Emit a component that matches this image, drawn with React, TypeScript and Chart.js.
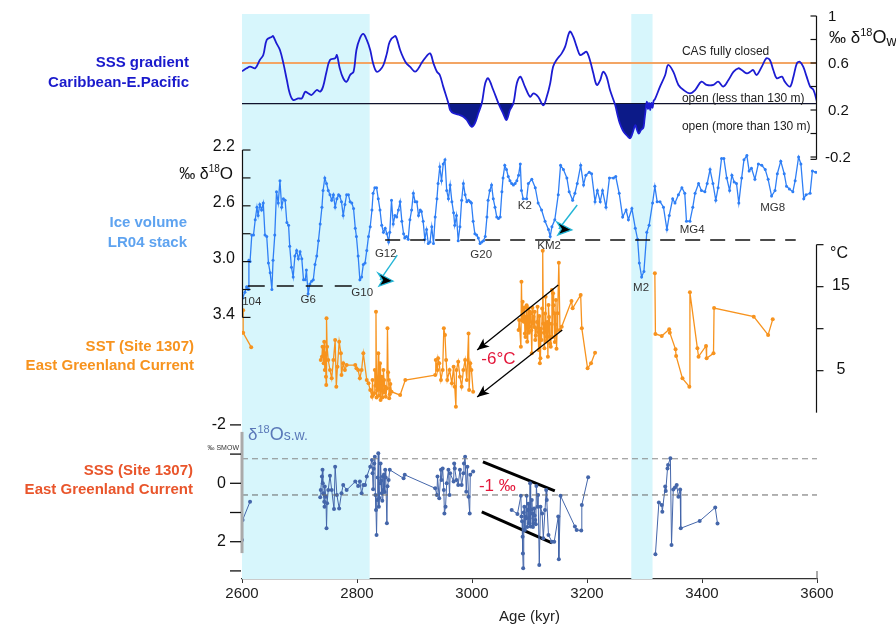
import React, { useEffect, useRef } from 'react';
import { Chart, registerables } from 'chart.js';
Chart.register(...registerables);

const F = '"Liberation Sans", Arial, Helvetica, sans-serif';

// ---------- data ----------
const ageTicks = [2600, 2800, 3000, 3200, 3400, 3600];
const bands: [number, number][] = [[2600, 2822], [3277, 3314]];

// SSS gradient Caribbean - E. Pacific (‰ δ18Ow)
const sssGradient: [number, number][] = [
  [2600,0.53],[2608,0.555],[2614,0.57],[2623,0.555],[2631,0.626],[2637,0.668],[2643,0.796],[2652,0.824],[2654,0.83],[2660,0.767],
  [2666,0.711],[2672,0.597],[2678,0.455],[2683,0.342],[2689,0.285],[2698,0.299],[2704,0.299],[2710,0.356],[2715,0.342],[2721,0.328],
  [2730,0.37],[2736,0.356],[2741,0.399],[2747,0.526],[2753,0.626],[2762,0.64],[2765,0.668],[2770,0.555],[2776,0.47],[2782,0.441],
  [2788,0.498],[2794,0.526],[2799,0.711],[2805,0.81],[2811,0.847],[2817,0.796],[2823,0.711],[2828,0.597],[2834,0.526],[2840,0.54],
  [2846,0.583],[2852,0.682],[2857,0.782],[2866,0.83],[2869,0.81],[2875,0.711],[2881,0.64],[2886,0.597],[2892,0.569],[2901,0.526],
  [2907,0.555],[2912,0.597],[2918,0.64],[2927,0.682],[2933,0.597],[2939,0.526],[2944,0.498],[2950,0.399],[2959,0.257],[2962,0.2],
  [2968,0.172],[2979,0.157],[2985,0.143],[2991,0.115],[2999,0.058],[3005,0.087],[3011,0.172],[3017,0.257],[3023,0.427],[3028,0.47],
  [3037,0.37],[3046,0.257],[3054,0.172],[3060,0.115],[3066,0.2],[3072,0.257],[3078,0.427],[3084,0.484],[3092,0.399],[3101,0.313],
  [3107,0.342],[3115,0.313],[3124,0.24],[3130,0.313],[3136,0.427],[3141,0.569],[3147,0.626],[3156,0.682],[3162,0.739],[3170,0.867],
  [3176,0.824],[3182,0.739],[3188,0.668],[3194,0.682],[3199,0.696],[3205,0.626],[3211,0.512],[3217,0.413],[3223,0.455],[3228,0.526],
  [3234,0.484],[3240,0.37],[3249,0.243],[3253,0.16],[3257,0.087],[3262,0.03],[3266,0.0],[3270,-0.02],[3275,-0.04],[3279,0.0],
  [3284,0.07],[3287,0.03],[3290,0.0],[3294,0.03],[3298,0.05],[3300,0.12],[3302,0.2],[3304,0.27],[3306,0.21],[3308,0.26],
  [3310,0.2],[3312,0.26],[3314,0.22],[3316,0.28],[3318,0.29],[3327,0.399],[3336,0.498],[3341,0.583],[3350,0.526],[3359,0.413],
  [3368,0.37],[3379,0.342],[3388,0.37],[3399,0.441],[3408,0.413],[3420,0.413],[3428,0.441],[3437,0.399],[3446,0.455],[3455,0.526],
  [3463,0.555],[3469,0.54],[3478,0.512],[3484,0.526],[3489,0.54],[3495,0.498],[3504,0.569],[3512,0.64],[3518,0.626],[3524,0.54],
  [3530,0.47],[3539,0.484],[3544,0.441],[3553,0.399],[3559,0.484],[3565,0.597],[3570,0.611],[3576,0.569],[3582,0.484],[3588,0.399],
  [3594,0.37],[3600,0.27]
];
const casClosedLevel = 0.6;
const casOpenLevel = 0.255;
const gradTicks = [1.0, 0.8, 0.6, 0.4, 0.2, 0, -0.2];
const gradTickLabels: [number, string][] = [[1.0, '1'], [0.6, '0.6'], [0.2, '0.2'], [-0.2, '-0.2']];

// LR04 benthic stack (‰ δ18O)
const lr04: [number, number][] = [
  [2601,3.26],[2605,3.22],[2608,3.18],[2611,3.2],[2612,2.99],[2614,3.0],[2617,2.81],[2620,2.81],[2623,2.7],[2626,2.61],
  [2628,2.67],[2631,2.59],[2634,2.63],[2637,2.58],[2640,2.81],[2643,2.82],[2646,3.01],[2649,3.08],[2652,3.2],[2654,2.99],
  [2657,2.81],[2660,2.5],[2663,2.58],[2666,2.42],[2669,2.61],[2672,2.55],[2675,2.56],[2678,2.72],[2681,2.74],[2683,2.89],
  [2686,3.04],[2689,3.11],[2692,2.96],[2695,2.92],[2698,2.98],[2701,2.93],[2704,2.98],[2707,3.13],[2710,3.13],[2712,3.06],
  [2715,3.23],[2718,3.16],[2721,3.14],[2724,3.13],[2727,3.02],[2730,2.96],[2733,2.85],[2736,2.73],[2739,2.61],[2741,2.49],
  [2744,2.4],[2747,2.44],[2750,2.49],[2753,2.52],[2756,2.56],[2759,2.52],[2762,2.61],[2765,2.55],[2768,2.52],[2770,2.53],
  [2773,2.57],[2776,2.67],[2779,2.59],[2782,2.52],[2785,2.52],[2788,2.57],[2791,2.58],[2794,2.62],[2797,2.76],[2799,2.82],
  [2802,2.96],[2805,3.13],[2808,3.11],[2811,3.02],[2814,3.01],[2817,2.92],[2820,2.82],[2823,2.75],[2826,2.63],[2828,2.51],
  [2831,2.47],[2834,2.47],[2837,2.55],[2840,2.63],[2843,2.74],[2846,2.79],[2849,2.76],[2852,2.8],[2855,2.86],[2857,2.79],
  [2860,2.56],[2863,2.73],[2866,2.67],[2869,2.68],[2872,2.63],[2875,2.57],[2878,2.71],[2881,2.8],[2883,2.83],[2886,2.82],
  [2889,2.84],[2892,2.7],[2895,2.63],[2898,2.51],[2901,2.57],[2904,2.57],[2907,2.67],[2910,2.63],[2912,2.64],[2915,2.71],
  [2918,2.84],[2921,2.77],[2924,2.87],[2927,2.86],[2930,2.75],[2933,2.87],[2936,2.68],[2939,2.55],[2941,2.44],[2944,2.32],
  [2947,2.42],[2950,2.3],[2953,2.27],[2956,2.49],[2959,2.55],[2962,2.45],[2965,2.57],[2968,2.65],[2970,2.74],[2973,2.67],
  [2976,2.85],[2979,2.75],[2982,2.56],[2985,2.44],[2988,2.52],[2991,2.57],[2994,2.56],[2997,2.57],[2999,2.58],[3002,2.71],
  [3005,2.8],[3008,2.81],[3011,2.83],[3014,2.87],[3017,2.86],[3020,2.85],[3023,2.82],[3026,2.68],[3028,2.56],[3031,2.49],
  [3034,2.45],[3037,2.55],[3040,2.61],[3043,2.68],[3046,2.69],[3049,2.68],[3052,2.5],[3054,2.4],[3057,2.31],[3060,2.34],
  [3063,2.39],[3066,2.42],[3069,2.44],[3072,2.45],[3075,2.44],[3078,2.42],[3081,2.38],
  [3084,2.3],[3086,2.49],[3089,2.55],[3095,2.55],[3098,2.44],[3104,2.41],[3110,2.47],[3115,2.58],[3121,2.63],[3127,2.71],
  [3133,2.77],[3136,2.82],[3139,2.75],[3144,2.7],[3150,2.52],[3154,2.31],[3159,2.34],[3165,2.4],[3169,2.5],[3175,2.56],
  [3179,2.51],[3183,2.44],[3189,2.31],[3194,2.45],[3198,2.38],[3204,2.36],[3208,2.37],[3214,2.57],[3218,2.49],[3223,2.57],
  [3227,2.49],[3233,2.61],[3239,2.4],[3246,2.4],[3250,2.39],[3256,2.51],[3262,2.68],[3268,2.63],[3272,2.7],[3278,2.62],
  [3284,2.76],[3288,2.84],[3291,3.01],[3295,3.11],[3299,3.07],[3304,2.79],[3308,2.74],[3314,2.58],[3318,2.46],[3322,2.57],
  [3327,2.57],[3333,2.61],[3339,2.77],[3343,2.67],[3349,2.55],[3353,2.58],[3359,2.52],[3365,2.47],[3370,2.51],[3373,2.71],
  [3379,2.71],[3384,2.61],[3388,2.51],[3394,2.44],[3399,2.49],[3405,2.5],[3409,2.44],[3414,2.34],[3419,2.44],[3424,2.56],
  [3428,2.47],[3434,2.26],[3438,2.26],[3443,2.4],[3448,2.49],[3452,2.38],[3456,2.43],[3460,2.44],[3464,2.58],[3469,2.4],
  [3473,2.27],[3478,2.24],[3482,2.35],[3486,2.33],[3492,2.41],[3498,2.3],[3504,2.31],[3510,2.34],[3515,2.41],[3521,2.53],
  [3527,2.49],[3531,2.37],[3537,2.28],[3543,2.37],[3547,2.46],[3552,2.48],[3558,2.5],[3562,2.42],[3568,2.25],[3572,2.3],
  [3577,2.55],[3581,2.52],[3588,2.51],[3592,2.35],[3598,2.36]
];
const lrGlacialLow: [number, number][] = [[2610, 3.175], [2800, 3.175]];
const lrGlacialHigh: [number, number][] = [[2849, 2.845], [3563, 2.845]];
const lrTicks = [2.2, 2.4, 2.6, 2.8, 3.0, 3.2, 3.4];
const lrTickLabels = [2.2, 2.6, 3.0, 3.4];
const lrStages: [string, number, number][] = [
  ['104', 2617, 3.29], ['G6', 2715, 3.275], ['G10', 2809, 3.225], ['G12', 2850, 2.946], ['G20', 3016, 2.953],
  ['K2', 3092, 2.6], ['KM2', 3134, 2.888], ['M2', 3294, 3.19], ['MG4', 3383, 2.773], ['MG8', 3523, 2.616]
];
const lrArrows: [number, number, number, number][] = [[2870, 2.953, 2840, 3.132], [3183, 2.594, 3151, 2.766]];

// SST Site 1307 (°C)
const sst: [number, number | null][] = [
  [2602,12.2],[2602,9.5],[2616,7.8],[2680,null],
  [2737,6.27],[2739,6.67],[2740,7.86],[2742,5.87],[2743,8.45],[2744,5.08],[2745,7.06],[2746,4.29],[2746.5,3.29],[2747,11.23],
  [2748,7.86],[2750,6.27],[2753,5.08],[2756,4.09],[2759,6.27],[2762,8.65],[2764,3.1],[2766,5.48],[2769,8.45],[2772,7.06],
  [2773,4.48],[2776,5.87],[2779,5.08],[2782,5.67],[2797,5.67],[2799,5.28],[2802,5.08],[2805,4.09],[2808,5.08],[2811,7.06],
  [2817,3.89],[2820,3.49],[2823,2.7],[2826,1.9],[2827,3.89],[2828,2.1],[2830,2.3],[2831,5.08],[2832,3.2],[2833,12.02],
  [2834,1.8],[2835,2.7],[2836,4.2],[2837,7.06],[2838,2.0],[2839,3.49],[2840,5.87],[2841,1.51],[2842,3.6],[2843,4.29],
  [2844,1.8],[2845,2.7],[2846,5.08],[2847,3.9],[2848,2.4],[2849,3.1],[2850,1.9],[2852,2.9],[2853,10.04],[2854,4.8],
  [2855,3.89],[2856,1.71],[2857,2.2],[2858,3.4],[2860,2.5],[2875,2.1],[2884,3.89],[2936,4.48],[2937,6.27],[2940,5.08],
  [2941,6.47],[2943,5.87],[2946,3.89],[2949,5.08],[2951,10.04],[2953,9.25],[2955,6.27],[2957,3.89],[2961,5.08],[2965,3.49],
  [2968,5.48],[2970,3.1],[2972,0.71],[2973,5.08],[2976,6.07],[2979,4.29],[2982,3.1],[2985,5.08],[2988,6.27],[2991,3.89],
  [2994,9.44],[2995,2.7],[2997,5.87],[2999,5.08],[3002,2.5],[3040,null],
  [3081,9.84],[3082,11.03],[3085,7.86],[3086,15.6],[3087,11.0],[3088,13.21],[3089,12.02],[3090,10.83],[3091,12.5],[3092,9.44],
  [3093,9.0],[3094,11.43],[3095,12.8],[3096,8.45],[3097,10.5],[3098,12.42],[3099,9.5],[3100,10.24],[3101,12.02],[3102,11.8],
  [3103,9.8],[3104,7.06],[3105,12.5],[3106,10.63],[3107,11.43],[3108,10.2],[3109,12.0],[3110,8.65],[3111,9.2],[3112,10.04],
  [3113,10.8],[3114,12.62],[3115,9.6],[3116,7.46],[3117,11.5],[3118,5.87],[3119,6.47],[3120,10.0],[3121,8.65],[3122,12.4],
  [3123,19.29],[3124,10.63],[3125,9.5],[3126,7.66],[3127,11.8],[3128,13.81],[3129,8.5],[3130,9.05],[3131,10.8],[3132,6.67],
  [3133,12.82],[3134,11.4],[3135,9.05],[3136,8.2],[3137,7.86],[3138,10.6],[3139,14.6],[3140,9.0],[3141,14.21],[3142,12.8],
  [3143,11.83],[3144,8.4],[3145,10.5],[3146,13.41],[3147,7.6],[3148,9.8],[3149,11.83],[3151,17.86],[3153,9.84],[3156,10.24],
  [3173,13.29],[3175,12.42],[3189,14.01],[3191,10.04],[3201,5.28],[3207,5.87],[3214,7.14],[3260,null],
  [3318,16.59],[3319,9.37],[3330,9.13],[3343,9.92],[3344,9.52],[3354,7.54],[3355,6.75],[3366,4.09],[3378,3.1],[3379,14.33],
  [3392,7.66],[3394,6.67],[3407,7.94],[3408,6.47],[3420,7.06],[3421,12.46],[3490,11.43],[3515,9.25],[3523,11.11]
];
const sstTicks = [20, 15, 10, 5];
const sstTickLabels = [15, 5];
const sstArrows: [number, number, number, number][] = [[3150, 15.2, 3009, 7.46], [3157, 9.85, 3009, 1.87]];

// SSS / δ18O seawater Site 1307 (‰ SMOW)
const sss: [number, number | null][] = [
  [2600,1.94],[2601,1.26],[2614,0.63],[2680,null],
  [2736,0.48],[2737,0.23],[2739,-0.23],[2740,-0.46],[2740.5,0],[2741,0.34],[2743,0.63],[2743.5,0.8],[2744,0.11],[2746,0.46],
  [2747,1.54],[2748,0.68],[2750,0.23],[2753,-0.26],[2756,0.23],[2760,0.88],[2762,-0.57],[2765,0.4],[2769,0.86],[2773,0.34],
  [2776,0.06],[2782,0.23],[2797,-0.06],[2802,0.09],[2805,-0.06],[2808,0.34],[2811,0.06],[2814,0.06],[2817,-0.23],[2823,-0.57],
  [2826,-0.8],[2827,-0.34],[2828,0.2],[2829,-0.5],[2830,-0.68],[2831,-0.91],[2832,0.4],[2833,0.91],[2834,1.77],[2835,0.57],
  [2836,-0.2],[2837,-1.03],[2838,0.8],[2839,0.5],[2840,0],[2841,-0.68],[2842,-0.1],[2843,0.34],[2844,0.6],[2845,-0.23],
  [2846,0.23],[2847,-0.3],[2848,0.3],[2849,-0.46],[2850,-0.2],[2852,1.37],[2853,0.1],[2855,-0.11],[2857,-0.46],[2881,-0.17],
  [2883,-0.29],[2936,0.17],[2939,0.4],[2940,-0.23],[2943,0.51],[2946,-0.46],[2947,-0.11],[2949,-0.51],[2951,0.23],[2952,1.03],
  [2954,0.8],[2956,0],[2959,-0.46],[2961,0.4],[2962,-0.34],[2968,-0.06],[2969,-0.68],[2970,-0.51],[2973,-0.11],[2976,0.06],
  [2979,-0.46],[2982,0.06],[2985,-0.34],[2986,-0.68],[2988,-0.91],[2990,0.29],[2992,-0.57],[2994,0.46],[2996,1.03],[2997,-0.29],
  [3002,-0.4],[3040,null],
  [3069,0.91],[3079,1.05],[3085,0.43],[3086,1.14],[3087,1.3],[3088,1.83],[3088.5,2.4],[3089,2.91],[3090,1.0],[3091,0.8],
  [3092,1.6],[3093,1.14],[3094,1.2],[3095,0.43],[3096,1.5],[3097,0.91],[3098,0.7],[3099,1.37],[3100,1.2],[3101,0],
  [3102,1.48],[3103,0.9],[3104,0.57],[3105,1.03],[3106,1.5],[3107,1.37],[3108,0.86],[3109,1.1],[3110,1.26],[3111,1.4],
  [3112,0.09],[3114,0.8],[3115,0.4],[3117,2.8],[3119,0.8],[3122,1.03],[3124,1.88],[3127,0.91],[3129,0.23],[3130,0.57],
  [3133,1.77],[3139,2.0],[3143,2.0],[3150,1.14],[3151,2.6],[3154,0.43],[3179,1.48],[3182,1.6],[3190,1.62],[3191,0.74],
  [3202,-0.21],[3260,null],
  [3319,2.43],[3325,0.66],[3330,0.74],[3331,0.97],[3336,0.11],[3337,0.26],[3340,-0.51],[3341,-0.63],[3345,-0.86],[3347,2.11],
  [3350,0.21],[3353,0.14],[3356,0.06],[3359,0.46],[3362,0.21],[3363,1.54],[3396,1.29],[3423,0.83],[3427,1.38]
];
const sssRefUpper: [number, number][] = [[2600, -0.84], [3600, -0.84]];
const sssRefLower: [number, number][] = [[2600, 0.4], [3600, 0.4]];
const sssTrendUpper: [number, number][] = [[3019, -0.73], [3144, 0.26]];
const sssTrendLower: [number, number][] = [[3017, 0.98], [3139, 2.04]];
const sssTicks = [-2, -1, 0, 1, 2, 3];
const sssTickLabels = [-2, 0, 2];
const sssRange: [number, number] = [-1.76, 2.39];

// ---------- helpers ----------
const pts = (a: [number, number | null][]) => a.map(([x, y]) => ({ x, y }));

function rich(ctx: CanvasRenderingContext2D, parts: { t: string; s: number; dy: number }[], x: number, y: number, align: 'left' | 'right', color: string) {
  let w = 0;
  for (const p of parts) { ctx.font = `${p.s}px ${F}`; w += ctx.measureText(p.t).width; }
  let cx = align === 'right' ? x - w : x;
  ctx.fillStyle = color;
  ctx.textAlign = 'left';
  ctx.textBaseline = 'alphabetic';
  for (const p of parts) {
    ctx.font = `${p.s}px ${F}`;
    ctx.fillText(p.t, cx, y + p.dy);
    cx += ctx.measureText(p.t).width;
  }
}

function head(ctx: CanvasRenderingContext2D, x1: number, y1: number, x2: number, y2: number, len: number, half: number) {
  const a = Math.atan2(y2 - y1, x2 - x1);
  const c = Math.cos(a), s = Math.sin(a);
  ctx.beginPath();
  ctx.moveTo(x2, y2);
  ctx.lineTo(x2 - len * c + half * s, y2 - len * s - half * c);
  ctx.lineTo(x2 - len * 0.75 * c, y2 - len * 0.75 * s);
  ctx.lineTo(x2 - len * c - half * s, y2 - len * s + half * c);
  ctx.closePath();
  ctx.fill();
}

const decor = {
  id: 'decor',
  beforeDatasetsDraw(chart: any) {
    const { ctx, chartArea: a, scales } = chart;
    const x = scales.x;
    ctx.save();
    ctx.fillStyle = '#d7f6fc';
    for (const [s, e] of bands) {
      const x1 = x.getPixelForValue(s), x2 = x.getPixelForValue(e);
      ctx.fillRect(x1, a.top, x2 - x1, a.bottom - a.top);
    }
    ctx.restore();
  },
  afterDatasetsDraw(chart: any) {
    const { ctx, chartArea: a, scales } = chart;
    const { x, yG, yL, yT, yS } = scales;
    ctx.save();
    ctx.lineCap = 'butt';

    // --- top panel right axis ---
    ctx.strokeStyle = '#111'; ctx.lineWidth = 1.2;
    const rx = a.right - 0.5;
    ctx.beginPath(); ctx.moveTo(rx, yG.getPixelForValue(gradTicks[0])); ctx.lineTo(rx, yG.getPixelForValue(-0.22)); ctx.stroke();
    for (const t of [...gradTicks, -0.22]) {
      const y = yG.getPixelForValue(t);
      ctx.beginPath(); ctx.moveTo(rx, y); ctx.lineTo(rx - 6, y); ctx.stroke();
    }
    ctx.fillStyle = '#111'; ctx.font = `15px ${F}`; ctx.textAlign = 'left'; ctx.textBaseline = 'middle';
    for (const [v, l] of gradTickLabels) ctx.fillText(l, a.right + (l.startsWith('-') ? 8 : 11), yG.getPixelForValue(v) + 1);
    rich(ctx, [{ t: '‰ δ', s: 17, dy: 0 }, { t: '18', s: 11, dy: -7 }, { t: 'O', s: 18, dy: 0 }, { t: 'w', s: 14, dy: 3 }], a.right + 12, 43, 'left', '#111');

    ctx.fillStyle = '#222'; ctx.font = `12px ${F}`; ctx.textAlign = 'left'; ctx.textBaseline = 'middle';
    ctx.fillText('CAS fully closed', x.getPixelForValue(3365), yG.getPixelForValue(0.70));
    ctx.fillText('open (less than 130 m)', x.getPixelForValue(3365), yG.getPixelForValue(0.30));
    ctx.fillText('open (more than 130 m)', x.getPixelForValue(3365), yG.getPixelForValue(0.055));

    // --- LR04 left axis ---
    const lx = a.left + 0.5;
    ctx.strokeStyle = '#111'; ctx.lineWidth = 1.2;
    ctx.beginPath(); ctx.moveTo(lx, yL.getPixelForValue(2.2)); ctx.lineTo(lx, yL.getPixelForValue(3.4)); ctx.stroke();
    for (const t of lrTicks) {
      const y = yL.getPixelForValue(t);
      ctx.beginPath(); ctx.moveTo(lx, y); ctx.lineTo(lx + 8, y); ctx.stroke();
    }
    ctx.fillStyle = '#111'; ctx.font = `16px ${F}`; ctx.textAlign = 'right'; ctx.textBaseline = 'middle';
    for (const v of lrTickLabels) ctx.fillText(v.toFixed(1), a.left - 7, yL.getPixelForValue(v) - 3);
    rich(ctx, [{ t: '‰ δ', s: 16, dy: 0 }, { t: '18', s: 10, dy: -7 }, { t: 'O', s: 17, dy: 0 }], a.left - 9, 179, 'right', '#111');

    ctx.fillStyle = '#333'; ctx.font = `11.5px ${F}`; ctx.textAlign = 'center'; ctx.textBaseline = 'middle';
    for (const [t, ax, v] of lrStages) ctx.fillText(t, x.getPixelForValue(ax), yL.getPixelForValue(v));

    for (const [x1v, y1v, x2v, y2v] of lrArrows) {
      const x1 = x.getPixelForValue(x1v), y1 = yL.getPixelForValue(y1v);
      const x2 = x.getPixelForValue(x2v), y2 = yL.getPixelForValue(y2v);
      ctx.strokeStyle = '#22b5d6'; ctx.lineWidth = 1.4;
      ctx.beginPath(); ctx.moveTo(x1, y1); ctx.lineTo(x2, y2); ctx.stroke();
      ctx.beginPath();
      ctx.moveTo(x2 - 2, y2 - 7);
      ctx.lineTo(x2 + 13, y2 + 1);
      ctx.lineTo(x2 - 1, y2 + 6);
      ctx.lineTo(x2 + 2.5, y2);
      ctx.closePath();
      ctx.fillStyle = '#000'; ctx.fill();
      ctx.strokeStyle = '#22b5d6'; ctx.lineWidth = 1.3; ctx.stroke();
    }

    // --- SST right axis ---
    ctx.strokeStyle = '#111'; ctx.lineWidth = 1.2;
    ctx.beginPath(); ctx.moveTo(rx, yT.getPixelForValue(20)); ctx.lineTo(rx, yT.getPixelForValue(0)); ctx.stroke();
    for (const t of sstTicks) {
      const y = yT.getPixelForValue(t);
      ctx.beginPath(); ctx.moveTo(rx, y); ctx.lineTo(rx + 7, y); ctx.stroke();
    }
    ctx.fillStyle = '#111'; ctx.font = `16px ${F}`; ctx.textAlign = 'center'; ctx.textBaseline = 'middle';
    for (const v of sstTickLabels) ctx.fillText(String(v), a.right + 24, yT.getPixelForValue(v) - 1);
    ctx.fillText('°C', a.right + 22, yT.getPixelForValue(20) + 9);

    ctx.strokeStyle = '#000'; ctx.fillStyle = '#000'; ctx.lineWidth = 1.3;
    for (const [x1v, y1v, x2v, y2v] of sstArrows) {
      const x1 = x.getPixelForValue(x1v), y1 = yT.getPixelForValue(y1v);
      const x2 = x.getPixelForValue(x2v), y2 = yT.getPixelForValue(y2v);
      ctx.beginPath(); ctx.moveTo(x1, y1); ctx.lineTo(x2, y2); ctx.stroke();
      head(ctx, x1, y1, x2, y2, 12, 5);
    }
    ctx.fillStyle = '#e3173a'; ctx.font = `17px ${F}`; ctx.textAlign = 'center'; ctx.textBaseline = 'middle';
    ctx.fillText('-6°C', x.getPixelForValue(3046), yT.getPixelForValue(6.4));

    // --- SSS left axis ---
    ctx.strokeStyle = '#aaaaaa'; ctx.lineWidth = 3;
    ctx.beginPath(); ctx.moveTo(a.left, yS.getPixelForValue(sssRange[0])); ctx.lineTo(a.left, yS.getPixelForValue(sssRange[1])); ctx.stroke();
    ctx.beginPath(); ctx.moveTo(a.right, yS.getPixelForValue(3.0)); ctx.lineTo(a.right, yS.getPixelForValue(3.25)); ctx.lineWidth = 2; ctx.stroke();
    ctx.strokeStyle = '#111'; ctx.lineWidth = 1.3;
    for (const t of sssTicks) {
      const y = yS.getPixelForValue(t);
      ctx.beginPath(); ctx.moveTo(a.left - 12, y); ctx.lineTo(a.left - 1, y); ctx.stroke();
    }
    ctx.fillStyle = '#111'; ctx.font = `16px ${F}`; ctx.textAlign = 'right'; ctx.textBaseline = 'middle';
    for (const v of sssTickLabels) ctx.fillText(String(v), a.left - 16, yS.getPixelForValue(v));
    ctx.font = `7px ${F}`; ctx.fillStyle = '#333';
    ctx.fillText('‰ SMOW', a.left - 3, yS.getPixelForValue(-1.2));
    rich(ctx, [{ t: 'δ', s: 17, dy: 0 }, { t: '18', s: 11, dy: -7 }, { t: 'O', s: 18, dy: 0 }, { t: 's.w.', s: 14, dy: 0 }], a.left + 6, 440, 'left', '#5a78b8');
    ctx.fillStyle = '#e3173a'; ctx.font = `17px ${F}`; ctx.textAlign = 'center'; ctx.textBaseline = 'middle';
    ctx.fillText('-1 ‰', x.getPixelForValue(3044), yS.getPixelForValue(0.12));

    // --- series labels (left margin) ---
    ctx.textAlign = 'right'; ctx.textBaseline = 'middle';
    ctx.font = `bold 15px ${F}`;
    ctx.fillStyle = '#1a1acc';
    ctx.fillText('SSS gradient', a.left - 53, 63);
    ctx.fillText('Caribbean-E.Pacific', a.left - 53, 83);
    ctx.fillStyle = '#5ea3f0';
    ctx.fillText('Ice volume', a.left - 55, 223);
    ctx.fillText('LR04 stack', a.left - 55, 243);
    ctx.fillStyle = '#f7931e';
    ctx.fillText('SST (Site 1307)', a.left - 48, 347);
    ctx.fillText('East Greenland Current', a.left - 48, 366);
    ctx.fillStyle = '#e9552b';
    ctx.fillText('SSS (Site 1307)', a.left - 49, 471);
    ctx.fillText('East Greenland Current', a.left - 49, 490);
    ctx.restore();
  }
};

export default function App() {
  const ref = useRef<HTMLCanvasElement>(null);
  useEffect(() => {
    const canvas = ref.current!;
    const line = (data: any, yAxisID: string, color: string, width: number, extra: any = {}) => ({
      data, yAxisID, borderColor: color, backgroundColor: color, borderWidth: width, pointRadius: 0, fill: false, tension: 0, ...extra
    });
    const chart = new Chart(canvas, {
      type: 'line',
      data: {
        datasets: [
          line(pts(sssGradient), 'yG', '#1c1cd2', 1.8, {
            tension: 0.35,
            fill: { target: { value: casOpenLevel }, above: 'rgba(0,0,0,0)', below: '#0c1a88' }
          }),
          line(pts([[2600, casClosedLevel], [3600, casClosedLevel]]), 'yG', '#f3a564', 2),
          line(pts([[2600, casOpenLevel], [3600, casOpenLevel]]), 'yG', '#111', 1.2),
          line(pts(lrGlacialLow), 'yL', '#111', 1.5, { borderDash: [17, 12] }),
          line(pts(lrGlacialHigh), 'yL', '#111', 1.5, { borderDash: [15, 10] }),
          line(pts(lr04), 'yL', '#2f7ff5', 1.3, { pointRadius: 1.5, pointBorderWidth: 0 }),
          line(pts(sst), 'yT', '#f7931e', 1.3, { pointRadius: 2, pointBorderWidth: 0 }),
          line(pts(sssRefUpper), 'yS', '#888', 1, { borderDash: [6, 4] }),
          line(pts(sssRefLower), 'yS', '#666', 1, { borderDash: [6, 4] }),
          line(pts(sss), 'yS', '#4466aa', 1, { pointRadius: 2, pointBorderWidth: 0 }),
          line(pts(sssTrendUpper), 'yS', '#000', 3),
          line(pts(sssTrendLower), 'yS', '#000', 3),
        ]
      },
      options: {
        animation: false,
        responsive: false,
        devicePixelRatio: 1,
        layout: { padding: { left: 242, right: 79, top: 14, bottom: 0 } },
        plugins: { legend: { display: false }, tooltip: { enabled: false } },
        elements: { line: { borderCapStyle: 'butt' } },
        scales: {
          x: {
            type: 'linear', min: 2600, max: 3600, position: 'bottom',
            afterBuildTicks: (s: any) => { s.ticks = ageTicks.map(v => ({ value: v })); },
            afterFit: (s: any) => { s.height = 51; },
            grid: { display: true, drawOnChartArea: false, tickLength: 4, color: '#333' },
            border: { display: true, color: '#333', width: 1.3 },
            ticks: { font: { family: F, size: 15 }, color: '#222', padding: 2, maxRotation: 0, autoSkip: false, callback: (v: any) => String(v) },
            title: { display: true, text: 'Age (kyr)', font: { family: F, size: 15 }, color: '#222', padding: { top: 4, bottom: 4 } }
          },
          yG: { type: 'linear', display: false, min: -3.791, max: 1.017 },
          yL: { type: 'linear', display: false, min: 1.225, max: 5.275, reverse: true },
          yT: { type: 'linear', display: false, min: -19.8, max: 47.46 },
          yS: { type: 'linear', display: false, min: -16.07, max: 3.277, reverse: true }
        }
      } as any,
      plugins: [decor as any]
    });
    return () => chart.destroy();
  }, []);
  return (
    <div style={{ position: 'absolute', left: 0, top: 0, width: 896, height: 630, background: '#fff' }}>
      <canvas ref={ref} width={896} height={630} style={{ display: 'block', width: 896, height: 630 }} />
    </div>
  );
}
